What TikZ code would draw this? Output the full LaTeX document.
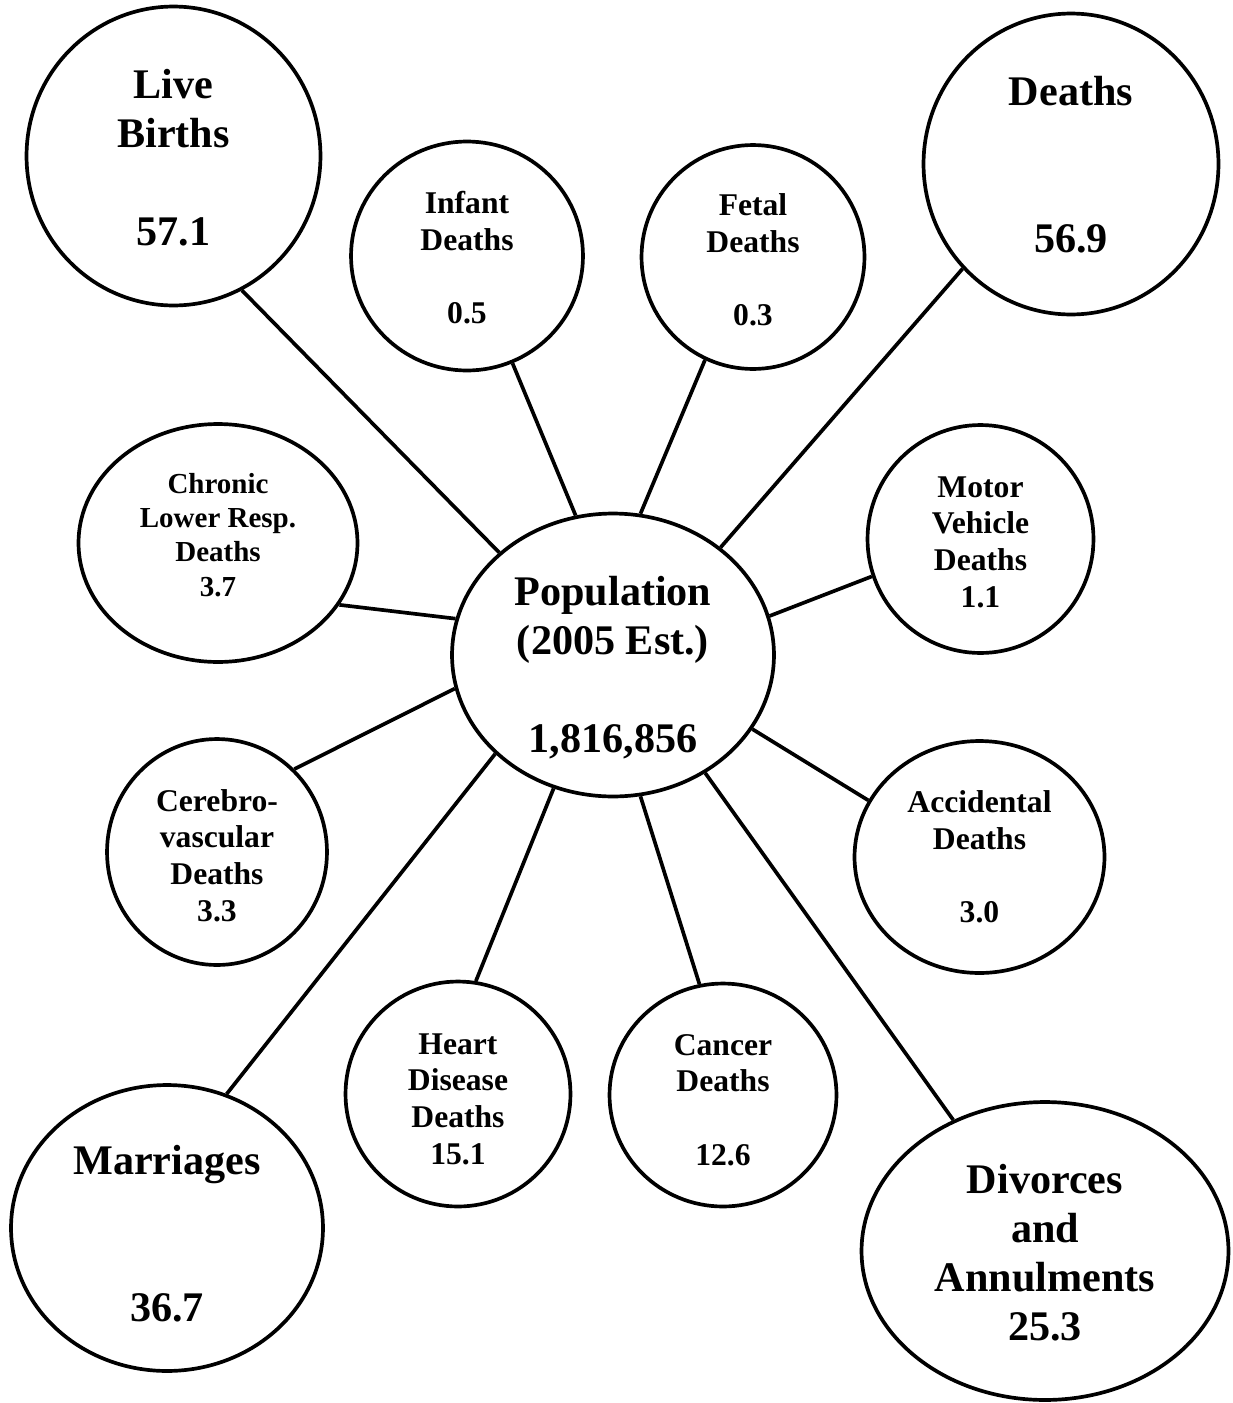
\documentclass[tikz,border=0pt]{standalone}
\usepackage{fontspec}
\setmainfont{Liberation Serif}
\usetikzlibrary{shapes.geometric}
\tikzset{
	bubble/.style={
		ellipse,
		fill=black!0,
		draw=black, line width=2.1pt,
		inner sep=0pt},
	text1/.style={
		inner sep=0pt,
		align=center,
		font=\fontsize{24}{27.9}\selectfont\bfseries},
	text2/.style={
		inner sep=0pt,
		align=center,
		font=\fontsize{18}{20.9}\selectfont\bfseries},
	link/.style={
		draw=black, line width=2.1pt}
}
\begin{document}
\begin{tikzpicture}
[x=0.02cm, y=-0.02cm]
\useasboundingbox (0,0) rectangle (1232,1403);
\node[bubble, minimum width=5.88cm, minimum height=5.98cm] (lb) at (173.5,156) {};
\node[bubble, minimum width=4.64cm, minimum height=4.58cm] (inf) at (467,256) {};
\node[bubble, minimum width=4.46cm, minimum height=4.48cm] (fet) at (753,257) {};
\node[bubble, minimum width=5.90cm, minimum height=6.02cm] (dea) at (1071,164) {};
\node[bubble, minimum width=5.58cm, minimum height=4.76cm] (chr) at (218,543) {};
\node[bubble, minimum width=6.44cm, minimum height=5.66cm] (pop) at (613,655) {};
\node[bubble, minimum width=4.52cm, minimum height=4.56cm] (mot) at (980.5,539) {};
\node[bubble, minimum width=4.40cm, minimum height=4.52cm] (cer) at (217,852) {};
\node[bubble, minimum width=5.00cm, minimum height=4.64cm] (acc) at (979.5,857) {};
\node[bubble, minimum width=4.50cm, minimum height=4.50cm] (hea) at (458,1094) {};
\node[bubble, minimum width=4.54cm, minimum height=4.46cm] (can) at (723,1095) {};
\node[bubble, minimum width=6.24cm, minimum height=5.72cm] (mar) at (167,1228) {};
\node[bubble, minimum width=7.34cm, minimum height=5.96cm] (div) at (1045,1251) {};
% texts
\node[text1] (lbt) at (173.5,158) {Live\\Births\\[27.9pt]57.1};
\node[text2] (inft) at (467,258) {Infant\\Deaths\\[20.9pt]0.5};
\node[text2] (fett) at (753,260) {Fetal\\Deaths\\[20.9pt]0.3};
\node[text1] (deat) at (1071,164.5) {Deaths\\[55.8pt]56.9};
\node[text2, font=\fontsize{16.5}{19.5}\selectfont\bfseries] (chrt) at (218,535) {Chronic\\Lower Resp.\\Deaths\\3.7};
\node[text1] (popt) at (613,668) {Population\\(2005 Est.)\\[27.9pt]1,816,856};
\node[text2] (mott) at (980.5,542) {Motor\\Vehicle\\Deaths\\1.1};
\node[text2] (cert) at (217,855.5) {Cerebro-\\vascular\\Deaths\\3.3};
\node[text2] (acct) at (979.5,857) {Accidental\\Deaths\\[20.9pt]3.0};
\node[text2] (heat) at (458,1099) {Heart\\Disease\\Deaths\\15.1};
\node[text2] (cant) at (723,1100) {Cancer\\Deaths\\[20.9pt]12.6};
\node[text1] (mart) at (167,1234) {Marriages\\[55.8pt]36.7};
\node[text1] (divt) at (1045,1253) {Divorces\\and\\Annulments\\25.3};
% links
\draw[link] (lb.297) -- (pop.138.2);
\draw[link] (inf.293.3) -- (pop.105.9);
\draw[link] (fet.245.7) -- (pop.79.6);
\draw[link] (dea.224.2) -- (pop.45.7);
\draw[link] (chr.333.5) -- (pop.167.2);
\draw[link] (mot.199.4) -- (pop.14.8);
\draw[link] (cer.47.5) -- (pop.192.3);
\draw[link] (acc.153.8) -- (pop.332.9);
\draw[link] (hea.81.1) -- (pop.246.2);
\draw[link] (can.102.8) -- (pop.281);
\draw[link] (mar.66.3) -- (pop.220.6);
\draw[link] (div.125.2) -- (pop.308.3);
\end{tikzpicture}
\end{document}
